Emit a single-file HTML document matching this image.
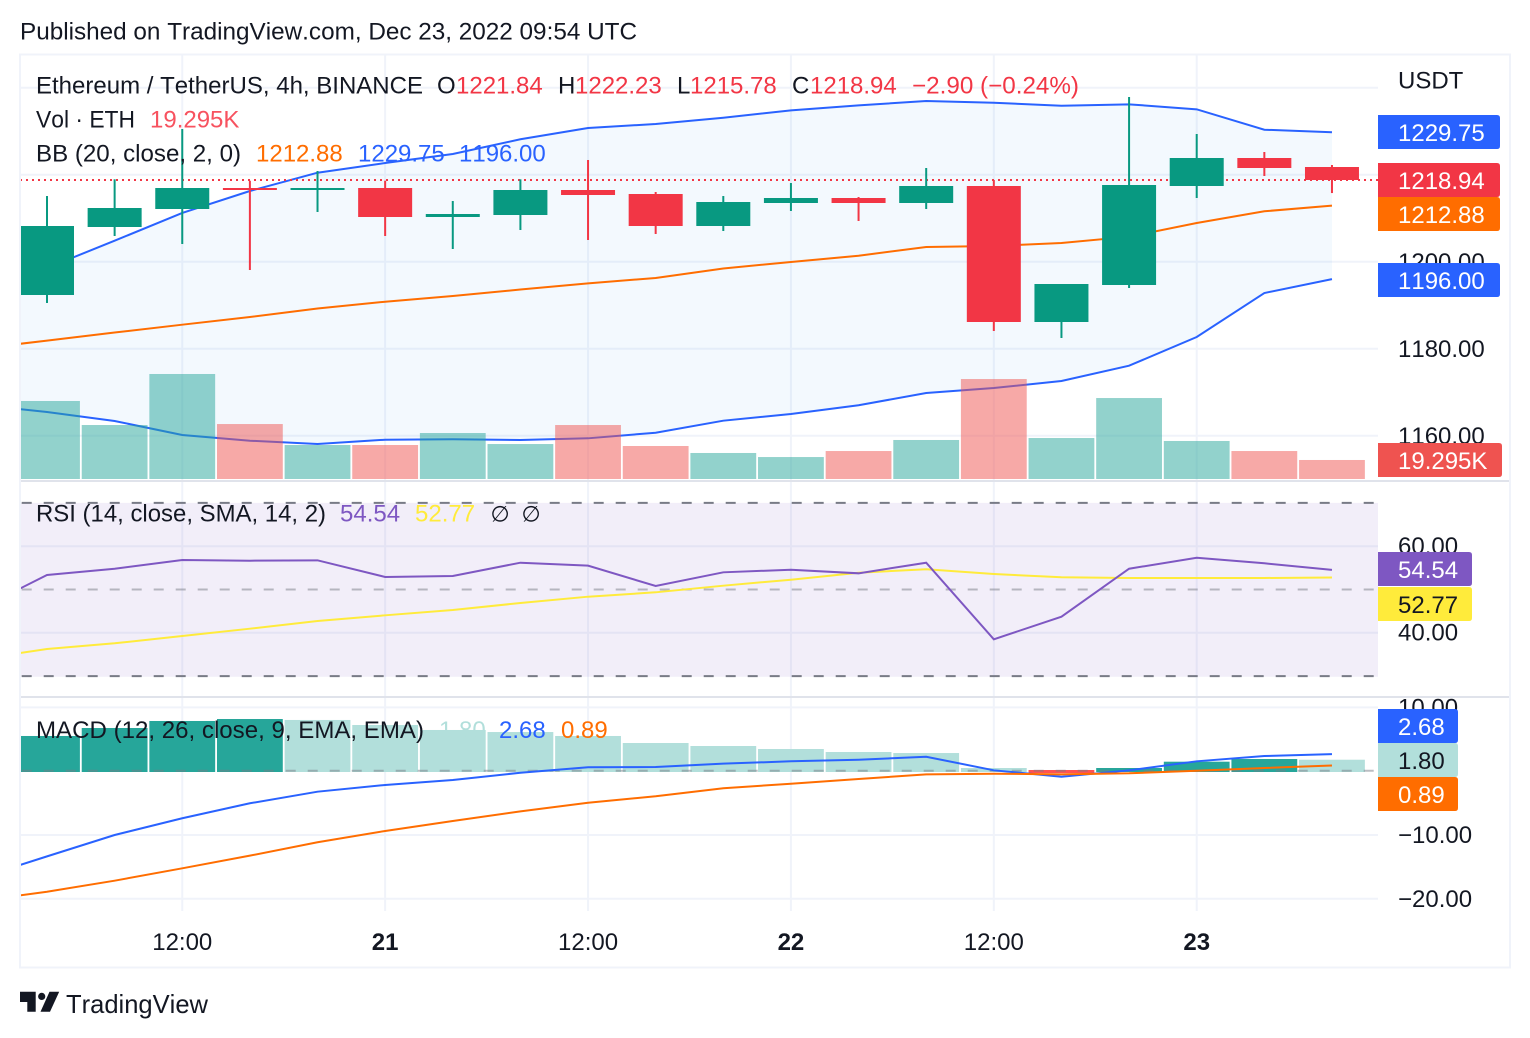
<!DOCTYPE html>
<html>
<head>
<meta charset="utf-8">
<title>ETH/USDT TradingView chart</title>
<style>
html,body{margin:0;padding:0;background:#fff;width:1530px;height:1038px;overflow:hidden}
svg{display:block;font-family:"Liberation Sans",Arial,sans-serif;font-kerning:none}
text{font-size:24px;fill:#131722}
</style>
</head>
<body>
<svg id="chart" width="1530" height="1038" viewBox="0 0 1530 1038" xmlns="http://www.w3.org/2000/svg">
  <defs>
    <clipPath id="clip-main"><rect x="21" y="55" width="1357" height="425"/></clipPath>
    <clipPath id="clip-rsi"><rect x="21" y="482" width="1357" height="214"/></clipPath>
    <clipPath id="clip-macd"><rect x="21" y="698" width="1357" height="213"/></clipPath>
  </defs>
  <text x="20" y="39.5" textLength="617" lengthAdjust="spacingAndGlyphs">Published on TradingView.com, Dec 23, 2022 09:54 UTC</text>
  <rect x="20" y="54.5" width="1490" height="913" fill="#fff" stroke="#f0f3fa" stroke-width="2"/>
  <g id="grid"></g>
  <g id="main-pane" clip-path="url(#clip-main)"></g>
  <g id="rsi-pane" clip-path="url(#clip-rsi)"></g>
  <g id="macd-pane" clip-path="url(#clip-macd)"></g>
  <rect x="21" y="480" width="1488" height="2" fill="#e0e3eb"/>
  <rect x="21" y="696" width="1488" height="2" fill="#e0e3eb"/>
  <g id="axis-labels"></g>

  <g>
    <text x="36" y="93.5" textLength="387" lengthAdjust="spacingAndGlyphs">Ethereum / TetherUS, 4h, BINANCE</text>
    <text x="437" y="93.5">O</text>
    <text x="456" y="93.5" style="fill:#f23645">1221.84</text>
    <text x="558" y="93.5">H</text>
    <text x="575" y="93.5" style="fill:#f23645">1222.23</text>
    <text x="677" y="93.5">L</text>
    <text x="690" y="93.5" style="fill:#f23645">1215.78</text>
    <text x="792" y="93.5">C</text>
    <text x="810" y="93.5" style="fill:#f23645">1218.94</text>
    <text x="912" y="93.5" textLength="167" lengthAdjust="spacingAndGlyphs" style="fill:#f23645">−2.90 (−0.24%)</text>
    <text x="36" y="127.5" textLength="99" lengthAdjust="spacingAndGlyphs">Vol · ETH</text>
    <text x="150" y="127.5" style="fill:#f7525f">19.295K</text>
    <text x="36" y="161.5" textLength="205" lengthAdjust="spacingAndGlyphs">BB (20, close, 2, 0)</text>
    <text x="256" y="161.5" style="fill:#ff6d00">1212.88</text>
    <text x="358" y="161.5" style="fill:#2962ff">1229.75</text>
    <text x="459" y="161.5" style="fill:#2962ff">1196.00</text>
  </g>
  <g>
    <text x="36" y="521.7" textLength="290" lengthAdjust="spacingAndGlyphs">RSI (14, close, SMA, 14, 2)</text>
    <text x="340" y="521.7" style="fill:#7e57c2">54.54</text>
    <text x="415" y="521.7" style="fill:#ffeb3b">52.77</text>
    <text x="490.5" y="521.5" style="font-size:22px">∅</text>
    <text x="521.5" y="521.5" style="font-size:22px">∅</text>
  </g>
  <g>
    <text x="36" y="738" textLength="388" lengthAdjust="spacingAndGlyphs">MACD (12, 26, close, 9, EMA, EMA)</text>
    <text x="439" y="738" style="fill:#b2dfdb">1.80</text>
    <text x="499" y="738" style="fill:#2962ff">2.68</text>
    <text x="561" y="738" style="fill:#ff6d00">0.89</text>
  </g>

  <g>
    <path d="M20 991.7H35.7V1011.7H27.3V1002H20Z" fill="#131722"/>
    <circle cx="41.7" cy="996.4" r="3.6" fill="#131722"/>
    <path d="M49.5 991.7H59.2L50 1011.7H40.5Z" fill="#131722"/>
    <text x="66" y="1013" textLength="142" lengthAdjust="spacingAndGlyphs" style="font-size:26px">TradingView</text>
  </g>
</svg>
<script>
// ---- candles (bar 0 = Dec 20 04:00, 4h bars) ----
const barOpen  = [1192.34,1207.98,1212.11,1216.94,1216.48,1216.94,1210.28,1210.74,1216.48,1215.56,1208.21,1213.49,1214.64,1213.49,1217.40,1186.14,1194.64,1217.40,1223.84,1221.84];
const barHigh  = [1215.10,1218.94,1230.51,1218.62,1220.85,1218.62,1213.95,1218.94,1223.38,1216.02,1215.10,1218.09,1214.87,1221.54,1218.78,1194.87,1237.86,1229.36,1225.22,1222.23];
const barLow   = [1190.51,1205.91,1204.07,1198.09,1211.43,1205.91,1202.92,1207.29,1204.99,1206.37,1207.06,1211.66,1209.36,1212.11,1184.07,1182.46,1193.95,1214.64,1219.70,1215.78];
const barClose = [1208.21,1212.34,1216.94,1216.48,1216.94,1210.28,1210.97,1216.48,1215.33,1208.21,1213.72,1214.64,1213.49,1217.40,1186.14,1194.87,1217.63,1223.84,1221.54,1218.94];
// volume in thousands of ETH
const volume = [79.2,54.8,106.6,55.8,34.5,34.5,46.7,35.5,54.8,33.5,26.4,22.3,28.4,39.6,101.5,41.6,82.2,38.6,28.4,19.295];
// Indicator series: first value belongs to the bar just left of the visible range
const bbBasis = [1180.02,1181.86,1183.72,1185.52,1187.29,1189.24,1190.80,1192.11,1193.61,1195.03,1196.25,1198.44,1199.93,1201.38,1203.38,1203.61,1204.30,1205.75,1208.90,1211.59,1212.88];
const bbUpper = [1191.20,1198.55,1204.83,1211.20,1216.25,1220.46,1222.69,1224.76,1228.14,1230.74,1231.66,1233.10,1234.80,1235.95,1236.94,1236.55,1235.86,1236.18,1235.03,1230.34,1229.75];
const bbLower = [1167.06,1165.45,1163.38,1160.16,1158.85,1158.09,1159.08,1159.17,1159.01,1159.40,1160.69,1163.45,1164.99,1166.99,1169.82,1170.97,1172.57,1176.09,1182.69,1192.80,1196.00];
const rsiLine = [45.50,53.35,54.80,56.81,56.65,56.74,52.89,53.12,56.19,55.50,50.81,53.97,54.57,53.74,56.19,38.50,43.72,54.80,57.34,56.05,54.54];
const rsiMa   = [33.95,36.26,37.58,39.26,40.95,42.73,44.04,45.27,46.88,48.34,49.35,50.88,52.26,53.88,54.67,53.58,52.82,52.66,52.66,52.66,52.77];
const macdLine   = [-16.73,-13.35,-10.00,-7.38,-5.03,-3.21,-2.16,-1.38,-0.24,0.61,0.66,1.18,1.55,1.80,2.27,0.14,-0.86,0.14,1.55,2.38,2.68];
const macdSignal = [-20.33,-18.89,-17.16,-15.22,-13.24,-11.14,-9.37,-7.81,-6.29,-4.94,-3.93,-2.68,-1.96,-1.22,-0.49,-0.39,-0.49,-0.33,0.08,0.50,0.89];
const macdHist   = [5.52,6.77,7.87,8.18,8.03,7.24,6.46,6.14,5.52,4.42,3.95,3.48,3.01,2.85,0.50,-0.30,0.50,1.49,1.91,1.80];
// ---- axis ticks ----
const priceTicks = [1240,1220,1200,1180,1160];
const priceTickLabels = ['','','1200.00','1180.00','1160.00'];
const rsiTicks = [60,40];
const rsiTickLabels = ['60.00','40.00'];
const rsiBands = [70,50,30];
const macdTicks = [10,-10,-20];
const macdTickLabels = ['10.00','−10.00','−20.00'];
const timeTickBars = [2,5,8,11,14,17];
const timeTickLabels = ['12:00','21','12:00','22','12:00','23'];

const NS = 'http://www.w3.org/2000/svg';
const UP = '#089981', DOWN = '#f23645';

// axis functions
const xOf = i => 47 + i * 67.63;
const yPrice = p => 261.7 - (p - 1200) * 4.35;
const yVol = v => 479 - v * 0.985;
const yRsi = v => 589.5 - (v - 50) * 4.33;
const yMacd = v => 771.2 - v * 6.38;

function mk(parent, tag, attrs) {
  const el = document.createElementNS(NS, tag);
  for (const k in attrs) el.setAttribute(k, attrs[k]);
  parent.appendChild(el);
  return el;
}
function linePath(values, yFn) {
  return values.map((v, i) => (i ? 'L' : 'M') + xOf(i - 1).toFixed(2) + ' ' + yFn(v).toFixed(2)).join('');
}

const grid = document.getElementById('grid');
const mainPane = document.getElementById('main-pane');
const rsiPane = document.getElementById('rsi-pane');
const macdPane = document.getElementById('macd-pane');
const axis = document.getElementById('axis-labels');

// ---- grid ----
timeTickBars.forEach(b => {
  const el = mk(grid, 'line', {x1: xOf(b), x2: xOf(b), y1: 55, y2: 911, stroke: '#f0f3fa', 'stroke-width': 2});
  
  
});
priceTicks.forEach(p => {
  const el = mk(grid, 'line', {x1: 21, x2: 1378, y1: yPrice(p), y2: yPrice(p), stroke: '#f0f3fa', 'stroke-width': 2});
  
  
});
rsiTicks.forEach(v => {
  const el = mk(grid, 'line', {x1: 21, x2: 1378, y1: yRsi(v), y2: yRsi(v), stroke: '#f0f3fa', 'stroke-width': 2});
  
  
});
macdTicks.forEach(v => {
  const el = mk(grid, 'line', {x1: 21, x2: 1378, y1: yMacd(v), y2: yMacd(v), stroke: '#f0f3fa', 'stroke-width': 2});
  
  
});

// ---- Bollinger band fill and lines ----
const bandTop = bbUpper.map((v, i) => (i ? 'L' : 'M') + xOf(i - 1).toFixed(2) + ' ' + yPrice(v).toFixed(2)).join('');
const bandBottom = bbLower.map((v, i) => [xOf(i - 1), yPrice(v)]).reverse().map(p => 'L' + p[0].toFixed(2) + ' ' + p[1].toFixed(2)).join('');
const band = mk(mainPane, 'path', {d: bandTop + bandBottom + 'Z', fill: 'rgba(33,150,243,0.055)'});



const basisEl = mk(mainPane, 'path', {d: linePath(bbBasis, yPrice), fill: 'none', stroke: '#ff6d00', 'stroke-width': 2});


const upperEl = mk(mainPane, 'path', {d: linePath(bbUpper, yPrice), fill: 'none', stroke: '#2962ff', 'stroke-width': 2});


const lowerEl = mk(mainPane, 'path', {d: linePath(bbLower, yPrice), fill: 'none', stroke: '#2962ff', 'stroke-width': 2});



// ---- volume ----
volume.forEach((v, i) => {
  const up = barClose[i] >= barOpen[i];
  const el = mk(mainPane, 'rect', {x: xOf(i) - 32.9, y: yVol(v), width: 65.8, height: 479 - yVol(v), fill: up ? 'rgba(38,166,154,0.5)' : 'rgba(239,83,80,0.5)'});
  
  
});

// ---- last price line ----
const lastClose = barClose[barClose.length - 1];
const lastY = Math.ceil(yPrice(lastClose));
const priceLine = mk(mainPane, 'line', {x1: 20, x2: 1378, y1: lastY, y2: lastY, stroke: DOWN, 'stroke-width': 2, 'stroke-dasharray': '2 4'});



// ---- candles ----
barOpen.forEach((o, i) => {
  const c = barClose[i], up = c >= o, col = up ? UP : DOWN;
  const wick = mk(mainPane, 'line', {x1: xOf(i), x2: xOf(i), y1: yPrice(barHigh[i]), y2: yPrice(barLow[i]), stroke: col, 'stroke-width': 2});
  
  
  const top = Math.round(yPrice(Math.max(o, c)));
  const bot = Math.round(yPrice(Math.min(o, c)) + 0.45);
  const body = mk(mainPane, 'rect', {x: xOf(i) - 27, y: top, width: 54, height: Math.max(bot - top, 1), fill: col});
  
  
});

// ---- RSI pane ----
const rsiBg = mk(rsiPane, 'rect', {x: 21, y: yRsi(rsiBands[0]), width: 1357, height: yRsi(rsiBands[2]) - yRsi(rsiBands[0]) + 0.7, fill: 'rgba(126,87,194,0.1)'});


rsiBands.forEach(v => {
  const el = mk(rsiPane, 'line', {x1: 21, x2: 1378, y1: yRsi(v), y2: yRsi(v), stroke: '#787b86', 'stroke-opacity': v === 50 ? 0.5 : 1, 'stroke-width': 2, 'stroke-dasharray': '10 12', 'stroke-dashoffset': -0.7});
  
  
});
const rsiMaEl = mk(rsiPane, 'path', {d: linePath(rsiMa, yRsi), fill: 'none', stroke: '#ffeb3b', 'stroke-width': 2});


const rsiEl = mk(rsiPane, 'path', {d: linePath(rsiLine, yRsi), fill: 'none', stroke: '#7e57c2', 'stroke-width': 2});



// ---- MACD pane ----
macdHist.forEach((v, i) => {
  const prev = i ? macdHist[i - 1] : -Infinity;
  let col;
  if (v >= 0) col = v > prev ? '#26a69a' : '#b2dfdb';
  else col = v > prev ? '#ffcdd2' : '#ff5252';
  const t = v >= 0 ? yMacd(v) : yMacd(0) - 1.2;
  const b = v >= 0 ? yMacd(0) + 0.8 : yMacd(v);
  const el = mk(macdPane, 'rect', {x: xOf(i) - 32.9, y: t, width: 65.8, height: b - t, fill: col});
  
  
});
const macdZero = mk(macdPane, 'line', {x1: 21, x2: 1378, y1: yMacd(0) - 0.4, y2: yMacd(0) - 0.4, stroke: '#787b86', 'stroke-opacity': 0.5, 'stroke-width': 2, 'stroke-dasharray': '10 12', 'stroke-dashoffset': -0.7});


const macdEl = mk(macdPane, 'path', {d: linePath(macdLine, yMacd), fill: 'none', stroke: '#2962ff', 'stroke-width': 2});


const signalEl = mk(macdPane, 'path', {d: linePath(macdSignal, yMacd), fill: 'none', stroke: '#ff6d00', 'stroke-width': 2});



// ---- axis tick labels ----
const usdt = mk(axis, 'text', {x: 1398, y: 88.5});
usdt.textContent = 'USDT';



priceTicks.forEach((p, i) => {
  if (!priceTickLabels[i]) return;
  const el = mk(axis, 'text', {x: 1398, y: yPrice(p) + 8.5});
  el.textContent = priceTickLabels[i];
  
  
});
rsiTicks.forEach((v, i) => {
  const el = mk(axis, 'text', {x: 1398, y: yRsi(v) + 7.7});
  el.textContent = rsiTickLabels[i];
  
  
});
macdTicks.forEach((v, i) => {
  const el = mk(axis, 'text', {x: 1398, y: yMacd(v) + 8});
  el.textContent = macdTickLabels[i];
  
  
});
timeTickBars.forEach((b, i) => {
  const day = timeTickLabels[i].indexOf(':') < 0;
  const el = mk(axis, 'text', {x: xOf(b), y: 950, 'text-anchor': 'middle', 'font-weight': day ? 'bold' : 'normal'});
  el.textContent = timeTickLabels[i];
  
  
});

// ---- value badges on the price scale ----
function badge(top, right, bg, fg, label, name) {
  const r = mk(axis, 'path', {d: 'M1378 ' + top + 'H' + (right - 3) + 'Q' + right + ' ' + top + ' ' + right + ' ' + (top + 3) + 'V' + (top + 31) + 'Q' + right + ' ' + (top + 34) + ' ' + (right - 3) + ' ' + (top + 34) + 'H1378Z', fill: bg});
  
  
  const t = mk(axis, 'text', {x: 1398, y: top + 26, style: 'fill:' + fg});
  t.textContent = label;
  
  
}
const lastOf = a => a[a.length - 1];
badge(115, 1500, '#2962ff', '#fff', lastOf(bbUpper).toFixed(2), 'bb-upper');
badge(163, 1500, '#f23645', '#fff', lastClose.toFixed(2), 'last-price');
badge(197, 1500, '#ff6d00', '#fff', lastOf(bbBasis).toFixed(2), 'bb-basis');
badge(263, 1500, '#2962ff', '#fff', lastOf(bbLower).toFixed(2), 'bb-lower');
badge(443, 1502, '#ef5350', '#fff', lastOf(volume).toFixed(3) + 'K', 'volume');
badge(552, 1472, '#7e57c2', '#fff', lastOf(rsiLine).toFixed(2), 'rsi');
badge(587, 1472, '#ffeb3b', '#131722', lastOf(rsiMa).toFixed(2), 'rsi-ma');
badge(709, 1458, '#2962ff', '#fff', lastOf(macdLine).toFixed(2), 'macd');
badge(743, 1458, '#b2dfdb', '#131722', lastOf(macdHist).toFixed(2), 'macd-histogram');
badge(777, 1458, '#ff6d00', '#fff', lastOf(macdSignal).toFixed(2), 'macd-signal');
</script>
</body>
</html>
